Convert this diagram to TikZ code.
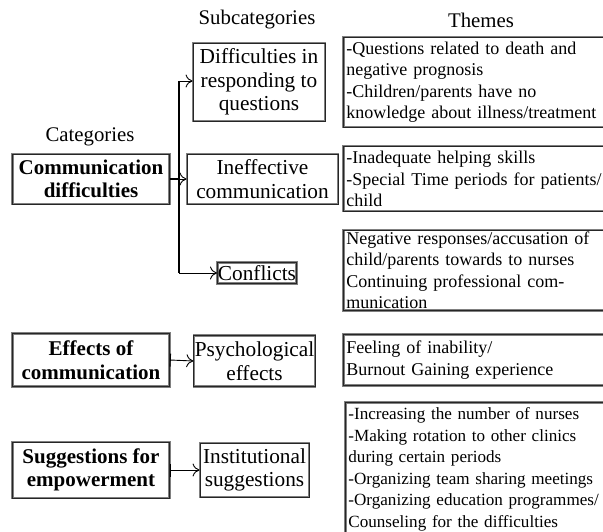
\documentclass[tikz,border=0pt]{standalone}
\usepackage{fontspec}
\setmainfont{Liberation Serif}
\usetikzlibrary{arrows.meta}
\usetikzlibrary{positioning}
\tikzset{
  box/.style = {draw=gray, double=black!85, double distance=0.6pt,
    line width=0.8pt, inner sep=1pt},
  cat_box/.style = {box, align=center,
    font=\fontsize{21}{23.5}\selectfont\bfseries},% categories
  sub_box/.style = {box, align=center,
    font=\fontsize{21.3}{23.5}\selectfont},% subcategories
  theme_box/.style = {box, anchor=north west, align=left, inner xsep=3pt,
    text width=300pt, font=\fontsize{18}{21.5}\selectfont},% themes
  head/.style = {font=\fontsize{20.8}{23}\selectfont},
  link/.style = {-{To[length=7pt,width=13pt]}, line width=0.9pt},
  trunk/.style = {line width=2.2pt}
}

\begin{document}
\begin{tikzpicture}[x=1pt,y=-1pt]
\useasboundingbox (0,0) rectangle (603,532);
% headers
\node [head] (hsub) at (257,20) {Subcategories};
\node [head] (hthm) at (481,20) {Themes};
\node [head] (hcat) at (90,137) {Categories};
% categories
\node [cat_box, minimum width=157pt, minimum height=50pt] (comm) at (91,179)
  {Communication\\ difficulties};
\node [cat_box, minimum width=157pt, minimum height=53pt] (eff) at (91,360)
  {Effects of\\ communication};
\node [cat_box, minimum width=157pt, minimum height=56pt] (sugg) at (91,470)
  {Suggestions for\\ empowerment};
% subcategories
\node [sub_box, minimum width=132pt, minimum height=78pt] (diff) at (259,82)
  {Difficulties in\\ responding to\\ questions};
\node [sub_box, minimum width=151pt, minimum height=50pt] (ineff) at (262.5,179)
  {Ineffective\\ communication};
\node [sub_box, anchor=west, minimum height=21pt, inner sep=0.5pt] (confl) at (217,273)
  {Conflicts};
\node [sub_box, minimum width=109pt, minimum height=51pt] (psych) at (254.5,361)
  {Psychological\\ effects};
\node [sub_box, minimum width=109pt, minimum height=54pt] (inst) at (254.5,470)
  {Institutional\\ suggestions};
% themes
\node [theme_box, minimum height=90pt] (t1) at (343,37)
  {-Questions related to death and\\ negative prognosis\\ -Children/parents have no\\ knowledge about illness/treatment};
\node [theme_box, minimum height=65pt] (t2) at (343,146)
  {-Inadequate helping skills\\ -Special Time periods for patients/\\ child};
\node [theme_box, minimum height=80pt] (t3) at (343,230)
  {Negative responses/accusation of\\ child/parents towards to nurses\\ Continuing professional com-\\ munication};
\node [theme_box, minimum height=51pt] (t4) at (343,334)
  {Feeling of inability/\\ Burnout Gaining experience};
\node [theme_box, minimum height=134pt, font=\fontsize{17.1}{21.5}\selectfont] (t5) at (345,402)
  {-Increasing the number of nurses\\ -Making rotation to other clinics\\ during certain periods\\ -Organizing team sharing meetings\\ -Organizing education programmes/\\ Counseling for the difficulties};
% connectors
\coordinate (top) at (179,81);
\coordinate (bot) at (179,273);
\draw [trunk] (comm.east) -- (179,179);
\draw [trunk] (top) -- (bot);
\draw [link] (top) -- (diff.west |- top);
\draw [link] (179,179) -- (ineff.west);
\draw [link] (bot) -- (confl.west);
\draw [link, {Bar[width=13pt]}-{To[length=7pt,width=13pt]}] (eff.east) -- (psych.west);
\draw [link, {Bar[width=13pt]}-{To[length=7pt,width=13pt]}] (sugg.east) -- (inst.west);
\end{tikzpicture}
\end{document}
